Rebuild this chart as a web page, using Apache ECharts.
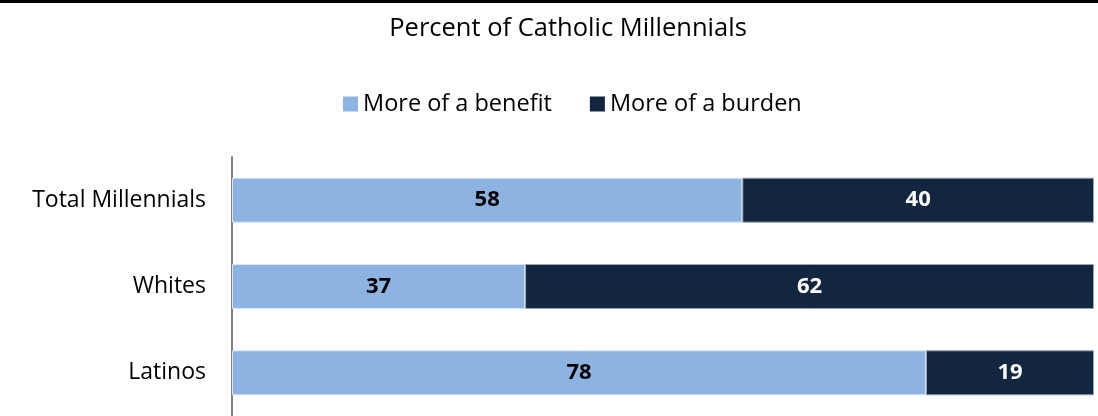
<!DOCTYPE html>
<html><head><meta charset="utf-8">
<script src="https://cdn.jsdelivr.net/npm/echarts@6/dist/echarts.min.js"></script>
<style>html,body{margin:0;padding:0;background:#fff}#c{width:1098px;height:416px}</style>
</head><body><div id="c"></div>
<script>
const categories = ['Total Millennials', 'Whites', 'Latinos'];
const benefitLabels = [58, 37, 78];
const burdenLabels = [40, 62, 19];
// bar lengths as share of each row
const benefitShare = [59.2, 34.0, 80.5];
const burdenShare = [40.8, 66.0, 19.5];
const seriesNames = ['More of a benefit', 'More of a burden'];

const FONT = '"Open Sans", "Liberation Sans", sans-serif';
const chart = echarts.init(document.getElementById('c'));
chart.setOption({
  animation: false,
  title: {
    text: 'Percent of Catholic Millennials', left: 563, top: 11, textAlign: 'center',
    textStyle: {fontFamily: FONT, fontSize: 25.5, fontWeight: 'normal', color: '#000'}
  },
  legend: {
    data: seriesNames, left: 338, top: 87, itemWidth: 15, itemHeight: 15, itemGap: 38,
    icon: 'rect', itemStyle: {borderWidth: 0},
    textStyle: {fontFamily: FONT, fontSize: 23.5, color: '#000'}
  },
  graphic: [{type: 'rect', shape: {x: 0, y: 0, width: 1098, height: 3}, style: {fill: '#000'}}],
  grid: {left: 232, right: 4, top: 157, bottom: -1, containLabel: false},
  xAxis: {type: 'value', min: 0, max: 100, show: false},
  yAxis: {
    type: 'category', data: categories, inverse: true,
    axisLine: {show: true, lineStyle: {color: '#808080', width: 2}},
    axisTick: {show: false},
    axisLabel: {fontFamily: FONT, fontSize: 23, color: '#000', margin: 26}
  },
  series: [
    {
      name: seriesNames[0], type: 'bar', stack: 'a', barWidth: 45, data: benefitShare,
      itemStyle: {color: '#8DB3E2', borderColor: '#dbe6f3', borderWidth: 1},
      label: {show: true, position: 'inside', fontFamily: FONT, fontSize: 22, fontWeight: 'bold', color: '#000',
        formatter: p => benefitLabels[p.dataIndex]}
    },
    {
      name: seriesNames[1], type: 'bar', stack: 'a', barWidth: 45, data: burdenShare,
      itemStyle: {color: '#13263F', borderColor: '#9aa3ae', borderWidth: 1},
      label: {show: true, position: 'inside', fontFamily: FONT, fontSize: 22, fontWeight: 'bold', color: '#fff',
        formatter: p => burdenLabels[p.dataIndex]}
    }
  ]
});
</script></body></html>
